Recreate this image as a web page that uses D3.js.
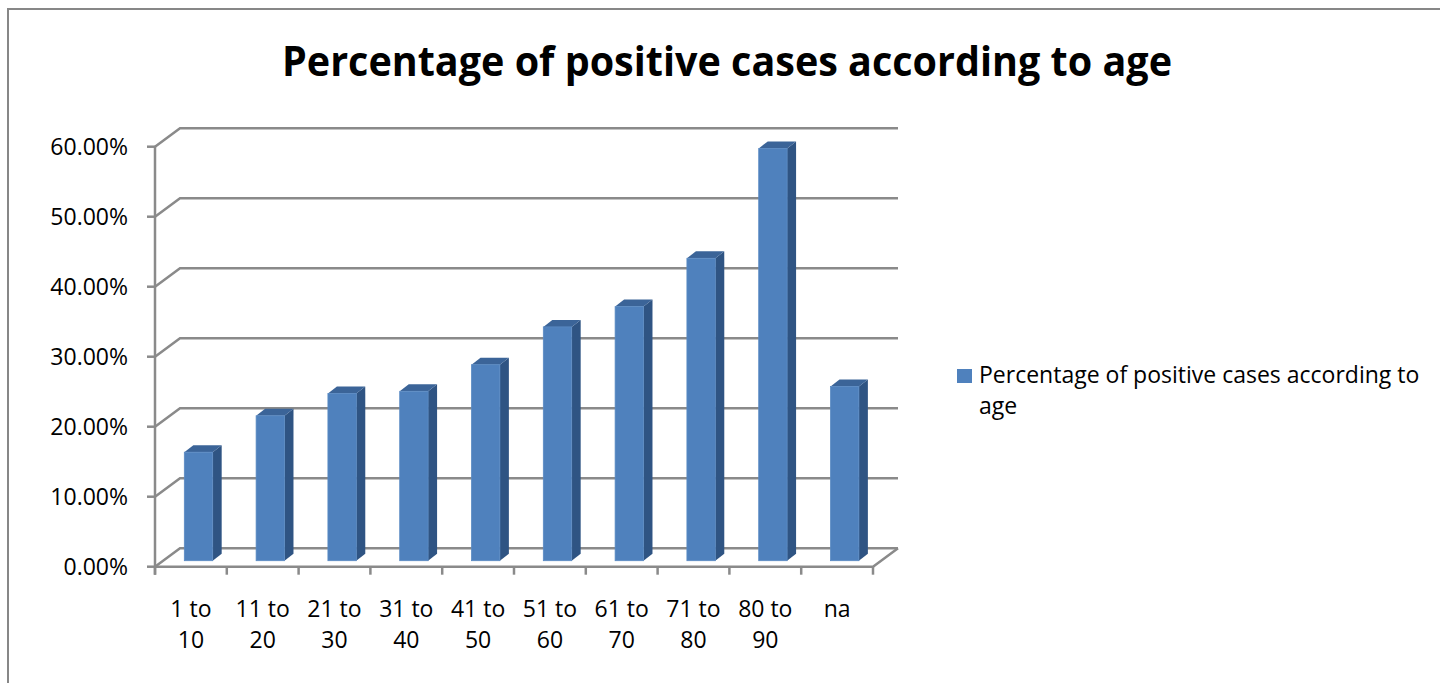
<!DOCTYPE html>
<html>
<head>
<meta charset="utf-8">
<script src="https://cdn.jsdelivr.net/npm/d3@7"></script>
<style>
  body { margin: 0; background: #fff; }
  svg { display: block; }
  text { font-family: "Open Sans", "Noto Sans", sans-serif; fill: #000; }
</style>
</head>
<body>
<script>
// Age groups and share of positive cases per group
const categories = ["1 to 10", "11 to 20", "21 to 30", "31 to 40", "41 to 50",
                    "51 to 60", "61 to 70", "71 to 80", "80 to 90", "na"];
const values = [0.155, 0.207, 0.239, 0.242, 0.280, 0.334, 0.363, 0.432, 0.589, 0.249];
const yTicks = [0, 0.1, 0.2, 0.3, 0.4, 0.5, 0.6];
const seriesName = "Percentage of positive cases according to age";
const chartTitle = "Percentage of positive cases according to age";

const W = 1440, H = 683;
const svg = d3.select("body").append("svg").attr("width", W).attr("height", H);

// outer chart frame
svg.append("rect")
  .attr("x", 8).attr("y", 9).attr("width", W + 20).attr("height", H + 20)
  .attr("fill", "none").attr("stroke", "#878787").attr("stroke-width", 2);

// title
svg.append("text")
  .attr("x", 727).attr("y", 76)
  .attr("text-anchor", "middle")
  .attr("font-size", 42).attr("font-weight", 700)
  .attr("textLength", 890).attr("lengthAdjust", "spacingAndGlyphs")
  .text(chartTitle);

// scales on the front plane of the 3-D box
const x = d3.scaleBand().domain(categories).range([155, 873]);
const y = d3.scaleLinear().domain([0, 0.6]).range([566.7, 146.7]);
const depth = { dx: 25, dy: -18.5 };        // full depth of the box
const backRight = x.range()[1] + depth.dx;   // right end of back wall
const grid = "#8a8a8a";

// gridlines: diagonal along the side wall, then across the back wall
svg.append("g").selectAll("path").data(yTicks).join("path")
  .attr("d", t => `M${x.range()[0]},${y(t)} l${depth.dx},${depth.dy} H${backRight}`)
  .attr("fill", "none").attr("stroke", grid).attr("stroke-width", 2.5);

// floor front edge and right edge
svg.append("path")
  .attr("d", `M${x.range()[0]},${y(0)} H${x.range()[1]} l${depth.dx},${depth.dy}`)
  .attr("fill", "none").attr("stroke", grid).attr("stroke-width", 2.5);

// value axis line and ticks
svg.append("path")
  .attr("d", `M${x.range()[0]},${y(0.6)} V${y(0) + 8}`)
  .attr("stroke", grid).attr("stroke-width", 2.5);
svg.append("g").selectAll("path").data(yTicks).join("path")
  .attr("d", t => `M${x.range()[0] - 8},${y(t)} H${x.range()[0]}`)
  .attr("stroke", grid).attr("stroke-width", 2.5);

// category ticks at band boundaries
const bounds = categories.map(c => x(c) + x.bandwidth()).concat([x.range()[0]]);
svg.append("g").selectAll("path").data(bounds).join("path")
  .attr("d", b => `M${b},${y(0)} V${y(0) + 8}`)
  .attr("stroke", grid).attr("stroke-width", 2.5);

// value axis labels
const fmt = d3.format(".2%");
svg.append("g").selectAll("text").data(yTicks).join("text")
  .attr("x", 128).attr("y", t => y(t))
  .attr("dy", "0.35em")
  .attr("text-anchor", "end")
  .attr("font-size", 23)
  .text(t => fmt(t));

// category labels, wrapped before the last word
const catLabels = svg.append("g").selectAll("text").data(categories).join("text")
  .attr("x", c => x(c) + x.bandwidth() / 2)
  .attr("y", 617)
  .attr("text-anchor", "middle")
  .attr("font-size", 23);
catLabels.each(function (c) {
  const words = c.split(" ");
  const lines = words.length > 1
    ? [words.slice(0, -1).join(" "), words[words.length - 1]]
    : [c];
  d3.select(this).selectAll("tspan").data(lines).join("tspan")
    .attr("x", x(c) + x.bandwidth() / 2)
    .attr("dy", (d, i) => i === 0 ? 0 : 31)
    .text(d => d);
});

// 3-D columns
const front = { dx: 7.6, dy: -6 };   // column front face offset into the box
const colDepth = { dx: 9, dy: -7 };  // column thickness
const bw = x.bandwidth() * 0.395;
const bars = svg.append("g").selectAll("g").data(categories.map((c, i) => ({ c, v: values[i] })))
  .join("g");

bars.each(function (d) {
  const g = d3.select(this);
  const x0 = x(d.c) + x.bandwidth() / 2 - bw / 2 + front.dx;
  const x1 = x0 + bw;
  const yt = y(d.v) + front.dy;
  const yb = y(0) + front.dy;
  const cx = colDepth.dx, cy = colDepth.dy;
  // right side face
  g.append("path")
    .attr("d", `M${x1},${yt} l${cx},${cy} L${x1 + cx},${yb + cy} L${x1},${yb} Z`)
    .attr("fill", "#2f5483");
  // top face
  g.append("path")
    .attr("d", `M${x0},${yt} l${cx},${cy} H${x1 + cx} L${x1},${yt} Z`)
    .attr("fill", "#3b6498");
  // front face
  g.append("rect")
    .attr("x", x0).attr("y", yt).attr("width", bw).attr("height", yb - yt)
    .attr("fill", "#4f81bd").attr("stroke", "#5a8ac3").attr("stroke-width", 0.8);
});

// legend
svg.append("rect")
  .attr("x", 957).attr("y", 369).attr("width", 15).attr("height", 14)
  .attr("fill", "#4f81bd");
const legendWords = seriesName.split(" ");
svg.append("text")
  .attr("x", 979).attr("y", 383)
  .attr("font-size", 23)
  .selectAll("tspan")
  .data([legendWords.slice(0, -1).join(" "), legendWords[legendWords.length - 1]])
  .join("tspan")
  .attr("x", 979)
  .attr("dy", (d, i) => i === 0 ? 0 : 31)
  .text(d => d);
</script>
</body>
</html>
